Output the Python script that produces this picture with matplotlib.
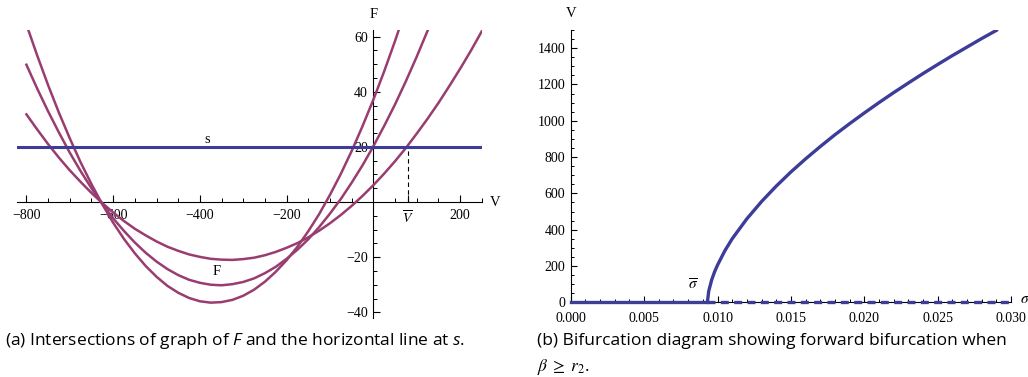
import matplotlib
matplotlib.use("Agg")
import matplotlib.pyplot as plt
from matplotlib.ticker import MultipleLocator, FormatStrFormatter

plt.rcParams["font.family"] = ["Liberation Serif", "DejaVu Serif"]
plt.rcParams["mathtext.fontset"] = "stix"
plt.rcParams["mathtext.rm"] = "Open Sans"
plt.rcParams["mathtext.it"] = "Open Sans:italic"

# (a) F(V) for three parameter sets, and the level s
v_grid = list(range(-800, 251, 25))
f_steep = [64.4, 53.1, 42.4, 32.4, 23.1, 14.4, 6.5, -0.8, -7.5, -13.4,
           -18.6, -23.2, -27.1, -30.4, -32.9, -34.8, -36.0, -36.5, -36.3, -35.5,
           -34.0, -31.8, -28.9, -25.3, -21.1, -16.2, -10.6, -4.4, 2.6, 10.2,
           18.5, 27.5, 37.1, 47.4, 58.4, 70.1]
f_mid = [49.8, 41.1, 32.9, 25.2, 17.9, 11.2, 5.0, -0.7, -5.9, -10.5,
         -14.7, -18.4, -21.6, -24.3, -26.5, -28.2, -29.3, -30.0, -30.2, -29.8,
         -29.0, -27.7, -25.8, -23.5, -20.6, -17.3, -13.5, -9.1, -4.2, 1.1,
         7.0, 13.3, 20.2, 27.6, 35.4, 43.8, 52.7, 62.1, 71.9]
f_flat = [31.8, 26.3, 21.0, 16.1, 11.5, 7.3, 3.3, -0.4, -3.8, -6.9,
          -9.7, -12.1, -14.3, -16.2, -17.7, -19.0, -19.9, -20.6, -20.9, -21.0,
          -20.7, -20.2, -19.3, -18.1, -16.6, -14.9, -12.8, -10.4, -7.7, -4.7,
          -1.4, 2.2, 6.1, 10.3, 14.8, 19.6, 24.8, 30.2, 35.9, 42.0,
          48.3, 54.9, 61.9]
s_level = 20
s_span = [-821, 250]
v_bar = 79
a_xticks = [-800, -600, -400, -200, v_bar, 200]
a_xlabels = ["\u2212800", "\u2212600", "\u2212400", "\u2212200", r"$\overline{V}$", "200"]
a_yticks = [-40, -20, 20, 40, 60]
a_ylabels = ["\u221240", "\u221220", "20", "40", "60"]

# (b) bifurcation branch V(sigma)
sigma = [0.00931, 0.0094, 0.0096, 0.0098, 0.0100, 0.0105, 0.0110, 0.0120,
         0.0130, 0.0140, 0.0150, 0.0160, 0.0170, 0.0180, 0.0190, 0.0200,
         0.0210, 0.0220, 0.0230, 0.0240, 0.0250, 0.0260, 0.0270, 0.0280, 0.0290]
v_branch = [0, 61, 123, 168, 205, 284, 350, 460, 555, 640, 718, 790, 858, 923,
            984, 1043, 1100, 1155, 1208, 1260, 1310, 1359, 1406, 1453, 1498]
sigma_bar = 0.00931
sigma_max = 0.030

blue = "#3d3d99"
purple = "#993d71"

fig = plt.figure(figsize=(10.28, 3.77), dpi=100)

# ---- panel (a)
ax1 = fig.add_axes([0.01683, 0.1570, 0.4518, 0.7642])
ax1.set_xlim(s_span[0], s_span[1])
ax1.set_ylim(-42, 62.5)
for side in ["top", "right"]:
    ax1.spines[side].set_visible(False)
ax1.spines["left"].set_position(("data", 0))
ax1.spines["bottom"].set_position(("data", 0))
for side in ["left", "bottom"]:
    ax1.spines[side].set_linewidth(0.8)

for f in [f_steep, f_mid, f_flat]:
    ax1.plot(v_grid[:len(f)], f, color=purple, lw=1.8, zorder=3)
ax1.plot(s_span, [s_level, s_level], color=blue, lw=2.2, zorder=3)
ax1.plot([v_bar, v_bar], [0, s_level], color="k", lw=0.8, ls=(0, (4, 3)))

ax1.set_xticks(a_xticks, labels=a_xlabels)
ax1.xaxis.set_minor_locator(MultipleLocator(50))
ax1.set_yticks(a_yticks, labels=a_ylabels)
ax1.yaxis.set_minor_locator(MultipleLocator(5))
ax1.tick_params(which="major", direction="in", length=5, width=0.8,
                labelsize=10, pad=4)
ax1.tick_params(axis="x", which="major", pad=5)
ax1.tick_params(which="minor", direction="in", length=3, width=0.7)

ax1.text(-382, 22.5, "s", ha="center", va="center", fontsize=10.5)
ax1.text(-362, -25.3, "F", ha="center", va="center", fontsize=10.5)
ax1.text(0, 67.9, "F", ha="center", va="center", fontsize=10.5, clip_on=False)
ax1.text(282, 0, "V", ha="center", va="center", fontsize=10.5, clip_on=False)

# ---- panel (b)
ax2 = fig.add_axes([0.5552, 0.1981, 0.4283, 0.7223])
ax2.set_xlim(0, sigma_max)
ax2.set_ylim(0, 1500)
for side in ["top", "right"]:
    ax2.spines[side].set_visible(False)
for side in ["left", "bottom"]:
    ax2.spines[side].set_linewidth(0.8)

ax2.plot(sigma, v_branch, color=blue, lw=2.4, zorder=3)
ax2.plot([0, sigma_bar], [0, 0], color=blue, lw=2.4, clip_on=False, zorder=3)
ax2.plot([sigma_bar, sigma_max], [0, 0], color=blue, lw=2.4,
         ls=(0, (2.4, 1.6)), clip_on=False, zorder=3)

ax2.xaxis.set_major_locator(MultipleLocator(0.005))
ax2.xaxis.set_minor_locator(MultipleLocator(0.001))
ax2.xaxis.set_major_formatter(FormatStrFormatter("%.3f"))
ax2.yaxis.set_major_locator(MultipleLocator(200))
ax2.yaxis.set_minor_locator(MultipleLocator(50))
ax2.tick_params(which="major", direction="in", length=4.5, width=0.8,
                labelsize=10, pad=4)
ax2.tick_params(axis="x", which="major", pad=7)
ax2.tick_params(which="minor", direction="in", length=2.5, width=0.7)

ax2.text(0.00835, 95, r"$\overline{\sigma}$", ha="center", va="center", fontsize=11)
ax2.text(0, 1589, "V", ha="center", va="center", fontsize=10.5, clip_on=False)
ax2.text(0.03095, 13, r"$\sigma$", ha="center", va="center", fontsize=11,
         clip_on=False)

# ---- captions
cap = dict(family="Open Sans", fontsize=12.5, va="center", math_fontfamily="custom")
fig.text(5 / 1028, 1 - 341 / 377,
         "(a) Intersections of graph of $F$ and the horizontal line at $s$.", **cap)
fig.text(537 / 1028, 1 - 341 / 377,
         "(b) Bifurcation diagram showing forward bifurcation when", **cap)
fig.text(537 / 1028, 1 - 367 / 377, r"$\beta\;\geq\;r_2$.",
         family="Open Sans", fontsize=12.5, va="center", math_fontfamily="stix")

fig.savefig("out.png", dpi=100)
